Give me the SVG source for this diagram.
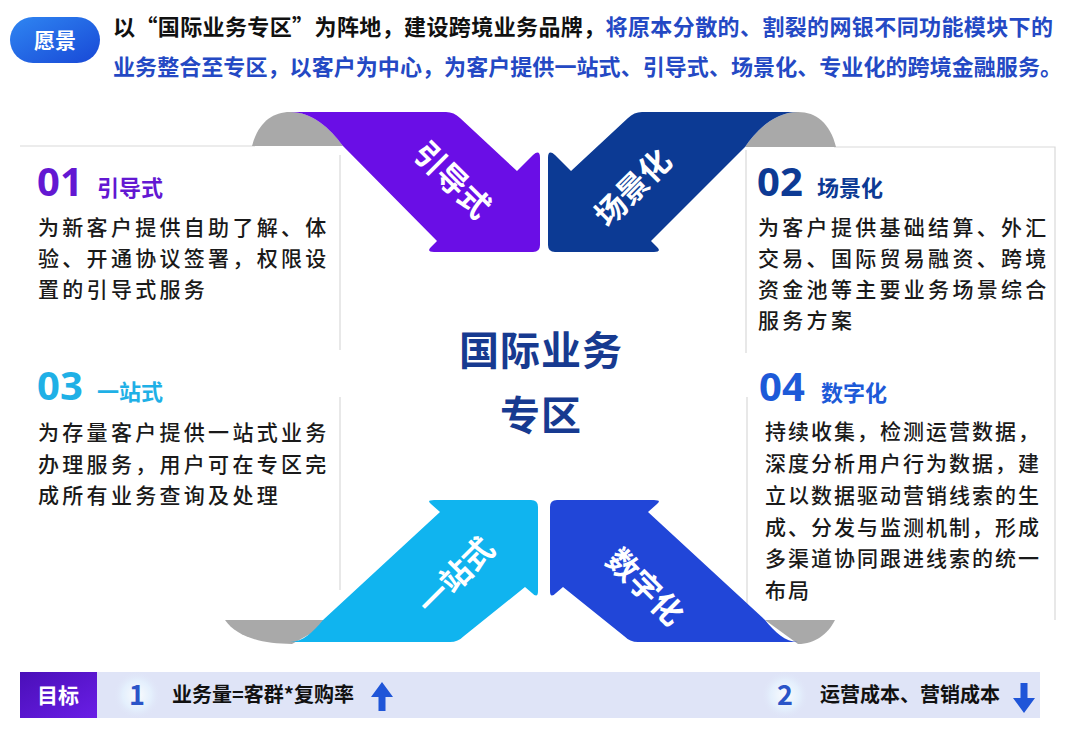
<svg xmlns="http://www.w3.org/2000/svg" width="1080" height="729" viewBox="0 0 1080 729">
<defs>
<linearGradient id="gPill" x1="0" y1="0" x2="1" y2="1"><stop offset="0" stop-color="#2f86f2"/><stop offset="1" stop-color="#1848d6"/></linearGradient>
<linearGradient id="gGoal" x1="0" y1="0" x2="1" y2="1"><stop offset="0" stop-color="#4a0fb8"/><stop offset="1" stop-color="#6a1ee6"/></linearGradient>
<radialGradient id="gGlow"><stop offset="0" stop-color="#ffffff" stop-opacity="0.9"/><stop offset="0.6" stop-color="#e6f4ff" stop-opacity="0.7"/><stop offset="1" stop-color="#dfe4f7" stop-opacity="0"/></radialGradient>
<style>
.t{font-family:"Noto Sans CJK SC","Noto Sans",sans-serif;}
.b{font-weight:700;}
.body{font-family:"Noto Sans CJK SC",sans-serif;font-size:21px;fill:#1a1a1a;font-weight:500;letter-spacing:3.3px;}
.body4{font-family:"Noto Sans CJK SC",sans-serif;font-size:21px;fill:#1a1a1a;font-weight:500;letter-spacing:2px;}
.num{font-family:"Noto Sans","Noto Sans CJK SC",sans-serif;font-size:40px;font-weight:700;}
.head{font-family:"Noto Sans CJK SC",sans-serif;font-size:22px;font-weight:700;}
.lab{font-family:"Noto Sans CJK SC",sans-serif;font-size:31px;font-weight:700;fill:#ffffff;text-anchor:middle;}
.line{stroke:#d9d9d9;stroke-width:1.2;fill:none;}
.gray{fill:#a9a9a9;}
</style>
</defs>
<rect width="1080" height="729" fill="#ffffff"/>

<g id="vision">
<rect x="10" y="17" width="90" height="46" rx="23" fill="url(#gPill)"/>
<text class="t b" x="55" y="48" font-size="21" fill="#ffffff" text-anchor="middle">愿景</text>
<text class="t b" x="113" y="35" font-size="22" textLength="940" lengthAdjust="spacing"><tspan fill="#111111">以“国际业务专区”为阵地，建设跨境业务品牌，</tspan><tspan fill="#2449c4">将原本分散的、割裂的网银不同功能模块下的</tspan></text>
<text class="t b" x="113" y="75" font-size="22" fill="#2449c4" textLength="949" lengthAdjust="spacing">业务整合至专区，以客户为中心，为客户提供一站式、引导式、场景化、专业化的跨境金融服务。</text>
</g>

<g id="card-lines">
<path class="line" d="M20,146 L255,146"/>
<path class="line" d="M340,155 L340,350 M340,397 L340,590"/>
<path class="line" d="M834,147 L1055,147 L1055,620"/>
<path class="line" d="M746,150 L746,353 M747,397 L747,612"/>
</g>

<g id="card-01">
<text class="num" x="37" y="196" fill="#6318d2">01</text>
<text class="head" x="97" y="196" fill="#6318d2">引导式</text>
<text class="body" x="38" y="235">为新客户提供自助了解、体</text>
<text class="body" x="38" y="266">验、开通协议签署，权限设</text>
<text class="body" x="38" y="297">置的引导式服务</text>
</g>

<g id="card-03">
<text class="num" x="37" y="400" fill="#1fb0e6">03</text>
<text class="head" x="97" y="400" fill="#1fb0e6">一站式</text>
<text class="body" x="38" y="440">为存量客户提供一站式业务</text>
<text class="body" x="38" y="472">办理服务，用户可在专区完</text>
<text class="body" x="38" y="503">成所有业务查询及处理</text>
</g>

<g id="card-02">
<text class="num" x="757" y="196" fill="#0d3a94">02</text>
<text class="head" x="817" y="196" fill="#0d3a94">场景化</text>
<text class="body" x="758" y="235">为客户提供基础结算、外汇</text>
<text class="body" x="758" y="266">交易、国际贸易融资、跨境</text>
<text class="body" x="758" y="297">资金池等主要业务场景综合</text>
<text class="body" x="758" y="328">服务方案</text>
</g>

<g id="card-04">
<text class="num" x="759" y="401" fill="#1d5ad8">04</text>
<text class="head" x="821" y="401" fill="#1d5ad8">数字化</text>
<text class="body4" x="765" y="439">持续收集，检测运营数据，</text>
<text class="body4" x="765" y="471">深度分析用户行为数据，建</text>
<text class="body4" x="765" y="503">立以数据驱动营销线索的生</text>
<text class="body4" x="765" y="535">成、分发与监测机制，形成</text>
<text class="body4" x="765" y="566">多渠道协同跟进线索的统一</text>
<text class="body4" x="765" y="598">布局</text>
</g>

<g id="connectors">
<g id="arrow-guide">
<path class="gray" d="M252,146 C258,123 272,112 290,112 C312,112 330,128 343,146 Z"/>
<path fill="#6a0ee6" d="M290,112 L446,112 Q454,112 460,118 L517,171 L533,155 Q540,149 540,158 L540,245 Q540,252 533,252 L434,252 Q426,252 431,247 L437,241 L343,146 C330,128 312,112 290,112 Z"/>
<text class="lab" transform="translate(452,180) rotate(45)" y="11">引导式</text>
</g>
<g id="arrow-scene">
<path class="gray" d="M836,147 C830,123 816,112 798,112 C776,112 758,128 745,147 Z"/>
<path fill="#0c3a94" d="M798,112 L642,112 Q634,112 628,118 L571,171 L555,155 Q548,149 548,158 L548,245 Q548,252 555,252 L654,252 Q662,252 657,247 L651,241 L745,147 C758,128 776,112 798,112 Z"/>
<text class="lab" transform="translate(633,188) rotate(-45)" y="11">场景化</text>
</g>
<g id="arrow-onestop">
<path class="gray" d="M225,620 L335,620 L292,644 C260,644 236,636 225,620 Z"/>
<path fill="#10b4ef" d="M290,642 L450,642 Q458,642 464,636 L525,587 L532,593 Q538,599 538,591 L538,507 Q538,500 531,500 L434,500 Q426,500 431,504 L440,512 L323,620 C313,632 303,642 290,642 Z"/>
<text class="lab" transform="translate(456,576) rotate(-45)" y="11">一站式</text>
</g>
<g id="arrow-digital">
<path class="gray" d="M765,620 L835,620 C828,634 815,644 798,644 Z"/>
<path fill="#2146d8" d="M798,642 L638,642 Q630,642 624,636 L563,587 L556,593 Q550,599 550,591 L550,507 Q550,500 557,500 L654,500 Q662,500 657,504 L648,512 L765,620 C775,632 785,642 798,642 Z"/>
<text class="lab" transform="translate(645,587) rotate(45)" y="11">数字化</text>
</g>
</g>

<g id="center">
<text class="t b" x="541" y="365" font-size="40" fill="#173a90" text-anchor="middle" letter-spacing="1">国际业务</text>
<text class="t b" x="541" y="430" font-size="40" fill="#173a90" text-anchor="middle" letter-spacing="1">专区</text>
</g>

<g id="goal">
<rect x="20" y="672" width="1020" height="46" fill="#dfe4f7"/>
<rect x="20" y="672" width="77" height="46" fill="url(#gGoal)"/>
<text class="t b" x="58" y="703" font-size="21" fill="#ffffff" text-anchor="middle">目标</text>
<circle cx="137" cy="695" r="24" fill="url(#gGlow)"/>
<text class="t b" x="137" y="705" font-size="27" fill="#2a55c8" text-anchor="middle">1</text>
<text class="t b" x="172" y="702" font-size="20" fill="#111111">业务量=客群*复购率</text>
<path fill="#1f55d8" d="M382,682 L393,697 L385.5,697 L385.5,711 L378.5,711 L378.5,697 L371,697 Z"/>
<circle cx="785" cy="695" r="24" fill="url(#gGlow)"/>
<text class="t b" x="785" y="705" font-size="27" fill="#2a55c8" text-anchor="middle">2</text>
<text class="t b" x="820" y="702" font-size="20" fill="#111111">运营成本、营销成本</text>
<path fill="#1f55d8" d="M1024,713 L1035,698 L1027.5,698 L1027.5,683 L1020.5,683 L1020.5,698 L1013,698 Z"/>
</g>
</svg>
